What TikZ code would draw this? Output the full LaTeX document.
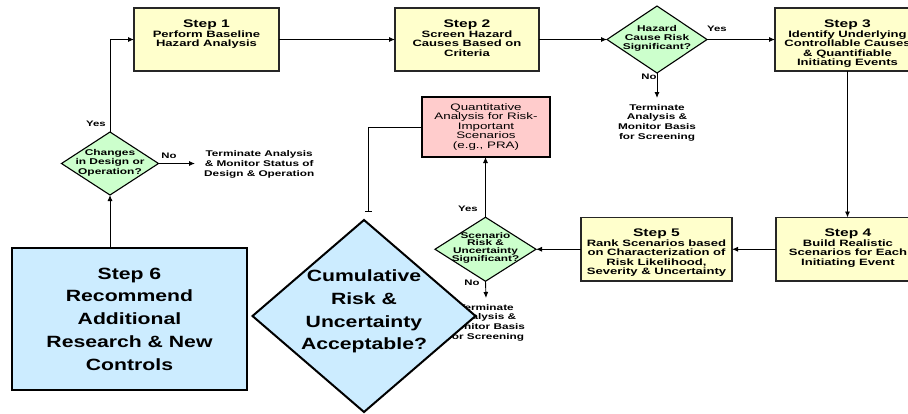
\documentclass[tikz,border=0pt]{standalone}
\usepackage{fontspec}
\setmainfont{Liberation Sans}
\newfontfamily\smallsans{Liberation Sans}[FakeStretch=1.42]
\newfontfamily\largesans{Liberation Sans}[FakeStretch=1.3]
\usetikzlibrary{shapes.geometric,arrows.meta}

\definecolor{stepyellow}{HTML}{FFFFCC}
\definecolor{decgreen}{HTML}{CCFFCC}
\definecolor{quantpink}{HTML}{FFCCCC}
\definecolor{finalblue}{HTML}{CCECFF}

\begin{document}
\begin{tikzpicture}[x=1pt,y=-1pt,
  conn/.style={draw=black, line width=0.9pt, -{Latex[length=6pt,width=5pt]}},
  stepbox/.style={draw=black!85, line width=1.6pt, fill=stepyellow,
    minimum width=#1, minimum height=63.5pt, inner sep=0pt, outer sep=0pt},
  steptext/.style={anchor=north, inner sep=0pt, align=center,
    font=\smallsans\bfseries\fontsize{9.2}{9.5}\selectfont},
  decision/.style={shape=diamond, draw=black, line width=1.1pt, fill=decgreen,
    inner sep=0pt, outer sep=0pt},
  dectext/.style={inner sep=0pt, align=center,
    font=\smallsans\bfseries\fontsize{8.4}{9.6}\selectfont},
  endtext/.style={inner sep=0pt, align=center,
    font=\smallsans\bfseries\fontsize{8.3}{9.7}\selectfont},
  lbl/.style={inner sep=0pt, font=\smallsans\bfseries\fontsize{8}{9}\selectfont},
  bigtext/.style={inner sep=0pt, align=center,
    font=\largesans\bfseries\fontsize{16.3}{22.8}\selectfont}
]
\useasboundingbox (0,0) rectangle (908,413);
\clip (0,0) rectangle (908,413);

% ---- upper row -------------------------------------------------------
\node[stepbox=145pt] (s1) at (206.5,39.5) {};
\node[steptext] at ([yshift=-12pt]s1.north)
  {{\fontsize{11}{11}\selectfont Step 1}\\Perform Baseline\\Hazard Analysis};

\node[stepbox=144pt] (s2) at (467,39.5) {};
\node[steptext] at ([yshift=-12pt]s2.north)
  {{\fontsize{11}{11}\selectfont Step 2}\\Screen Hazard\\Causes Based on\\Criteria};

\node[decision, minimum width=100pt, minimum height=67pt] (d1) at (657,39.5) {};
\node[dectext, font=\smallsans\bfseries\fontsize{8.4}{9}\selectfont] at ([yshift=1.5pt]d1.center)
  {Hazard\\Cause Risk\\Significant?};

\node[stepbox=145pt] (s3) at (847.5,39.5) {};
\node[steptext] at ([yshift=-12pt]s3.north)
  {{\fontsize{11}{11}\selectfont Step 3}\\Identify Underlying\\Controllable Causes\\\& Quantifiable\\Initiating Events};

\coordinate (t1) at (657,98);
\node[endtext, anchor=north] at ([yshift=-6pt]t1)
  {Terminate\\Analysis \&\\Monitor Basis\\for Screening};

% ---- middle row ------------------------------------------------------
\node[stepbox=144pt] (s4) at (848,249.25) {};
\node[steptext] at ([yshift=-11.5pt]s4.north)
  {{\fontsize{11}{11}\selectfont Step 4}\\Build Realistic\\Scenarios for Each\\Initiating Event};

\node[stepbox=151pt] (s5) at (656.5,249.25) {};
\node[steptext] at ([yshift=-11.5pt]s5.north)
  {{\fontsize{11}{11}\selectfont Step 5}\\Rank Scenarios based\\on Characterization of\\Risk Likelihood,\\Severity \& Uncertainty};

\node[decision, minimum width=101pt, minimum height=64pt] (d2) at (485.5,249.25) {};
\node[dectext, font=\smallsans\bfseries\fontsize{8.3}{7.9}\selectfont] at ([yshift=1.5pt]d2.center)
  {Scenario\\Risk \&\\Uncertainty\\Significant?};

\node[draw=black, line width=1.5pt, fill=quantpink, minimum width=128pt,
  minimum height=60pt, inner sep=0pt, outer sep=0pt] (q) at (486,127) {};
\node[inner sep=0pt, align=center, font=\smallsans\fontsize{9.4}{9.5}\selectfont]
  at (q.center) {Quantitative\\Analysis for Risk-\\Important\\Scenarios\\(e.g., PRA)};

\coordinate (t2) at (486,298);
\node[endtext, anchor=north] at ([yshift=-6pt]t2)
  {Terminate\\Analysis \&\\Monitor Basis\\for Screening};

% ---- left column -----------------------------------------------------
\node[decision, minimum width=97pt, minimum height=63pt] (d3) at (110,163.5) {};
\node[dectext] at ([yshift=1pt]d3.center) {Changes\\in Design or\\Operation?};

\coordinate (t3) at (195,163.5);
\node[endtext, anchor=west] at ([xshift=9pt,yshift=-1pt]t3)
  {Terminate Analysis\\\& Monitor Status of\\Design \& Operation};

\node[draw=black, line width=2.4pt, fill=finalblue, minimum width=235pt,
  minimum height=142pt, inner sep=0pt, outer sep=0pt] (s6) at (129.5,319) {};
\node[bigtext] at (s6.center)
  {Step 6\\Recommend\\Additional\\Research \& New\\Controls};

\coordinate (tee) at (368,212);

% ---- connectors ------------------------------------------------------
\draw[conn] (d3.north) |- (s1.west);
\draw[conn] (s1.east) -- (s2.west);
\draw[conn] (s2.east) -- (d1.west);
\draw[conn] (d1.east) -- (s3.west);
\draw[conn] (d1.south) -- (t1);
\draw[conn] (s3.south) -- (s3.south |- s4.north);
\draw[conn] (s4.west) -- (s5.east);
\draw[conn] (s5.west) -- (d2.east);
\draw[conn] (d2.north) -- (d2.north |- q.south);
\draw[conn] (d2.south) -- (t2);
\draw[conn] (d3.south |- s6.north) -- (d3.south);
\draw[conn] (d3.east) -- (t3);
\draw[line width=0.9pt, -{Bar[width=7pt,line width=0.9pt]}] (q.west) -| (tee);

% ---- branch labels ---------------------------------------------------
\node[lbl] at (96,124) {Yes};
\node[lbl] at (169,156) {No};
\node[lbl] at (717,29) {Yes};
\node[lbl] at (649,77) {No};
\node[lbl] at (468,209) {Yes};
\node[lbl] at (472,283) {No};

% ---- final decision --------------------------------------------------
\node[shape=diamond, draw=black, line width=2pt, fill=finalblue, inner sep=0pt,
  outer sep=0pt, minimum width=223pt, minimum height=192pt] (bd) at (364,316) {};
\node[bigtext] at ([yshift=4.5pt]bd.center)
  {Cumulative\\Risk \&\\Uncertainty\\Acceptable?};
\end{tikzpicture}
\end{document}
